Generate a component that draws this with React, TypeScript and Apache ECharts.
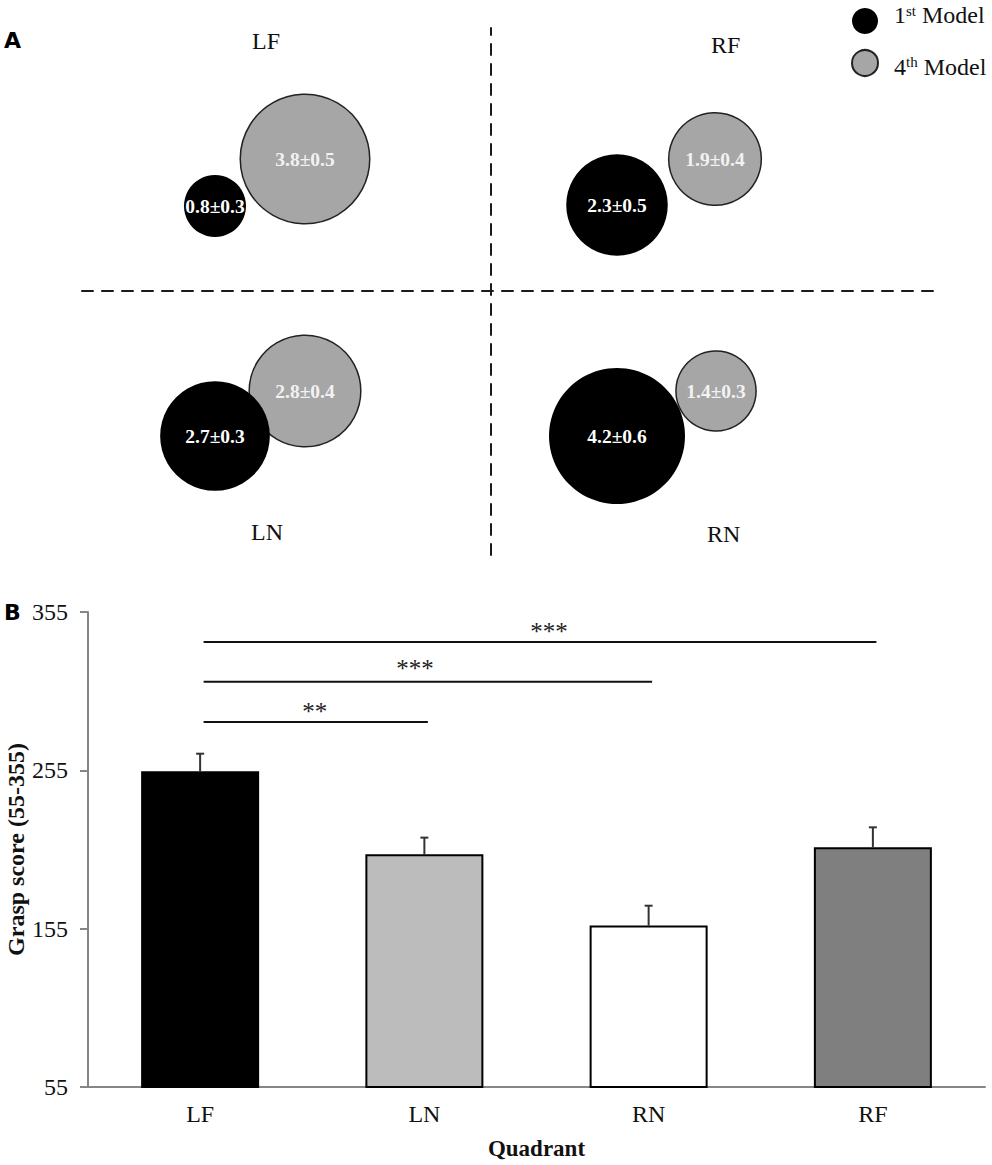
import React, { useEffect, useRef } from "react";
import * as echarts from "echarts";

const SERIF = "Liberation Serif";

// panel A: bubble positions per quadrant, order LF, RF, LN, RN
const quadrantNames = ["LF", "RF", "LN", "RN"];
const firstX = [-2.76, 1.26, -2.76, 1.26];
const firstY = [0.85, 0.86, -1.45, -1.45];
const firstMean = ["0.8", "2.3", "2.7", "4.2"];
const firstSd = ["0.3", "0.5", "0.3", "0.6"];
const fourthX = [-1.86, 2.24, -1.86, 2.25];
const fourthY = [1.32, 1.32, -1.0, -1.0];
const fourthMean = ["3.8", "1.9", "2.8", "1.4"];
const fourthSd = ["0.5", "0.4", "0.4", "0.3"];

// panel B
const categories = ["LF", "LN", "RN", "RF"];
const barValues = [254.5, 202, 157, 206.5];
const errorTops = [265.5, 212.5, 169.5, 219];
const barColors = ["#000000", "#bcbcbc", "#ffffff", "#7f7f7f"];
const yTicks = [55, 155, 255, 355];
const bracketEnds = [1, 2, 3];
const bracketLevels = [285.5, 311, 336];
const bracketMarks = ["**", "***", "***"];

const bubbleSize = (mean: string) => Math.sqrt(397 + 4309 * Number(mean));

const bubbleData = (xs: number[], ys: number[], means: string[], sds: string[]) =>
  xs.map((x, i) => ({
    value: [x, ys[i]],
    name: quadrantNames[i],
    symbolSize: bubbleSize(means[i]),
    label: { formatter: `${means[i]}±${sds[i]}` },
  }));

const legendRich = {
  gap: { width: 11 },
  txt: { fontFamily: SERIF, fontSize: 24, color: "#111" },
  sup: { fontFamily: SERIF, fontSize: 15, color: "#111", verticalAlign: "top", padding: [0, 0, 8, 0] },
};

const App: React.FC = () => {
  const chartRef = useRef<HTMLDivElement>(null);

  useEffect(() => {
    if (!chartRef.current) return;
    const chart = echarts.init(chartRef.current, undefined, { renderer: "svg" });

    const option: any = {
      animation: false,
      backgroundColor: "#fff",
      textStyle: { fontFamily: SERIF },
      legend: {
        left: 851,
        top: 3,
        orient: "vertical",
        itemWidth: 26,
        itemHeight: 26,
        itemGap: 15,
        selectedMode: false,
        padding: 0,
        data: [
          { name: "1st Model", textStyle: { padding: [0, 0, 12, 0] } },
          { name: "4th Model", textStyle: { padding: [7, 0, 0, 0] } },
        ],
        textStyle: { fontFamily: SERIF, fontSize: 24, rich: legendRich },
        formatter: (name: string) =>
          `{gap|}{txt|${name[0]}}{sup|${name.slice(1, 3)}}{txt|${name.slice(3)}}`,
      },
      grid: [
        { left: 82, top: 28, width: 855, height: 527, outerBoundsMode: "none" },
        { left: 88, top: 612, width: 897, height: 475, outerBoundsMode: "none" },
      ],
      xAxis: [
        {
          type: "value",
          gridIndex: 0,
          min: -4.09,
          max: 4.46,
          splitLine: { show: false },
          axisTick: { show: false },
          axisLabel: { show: false },
          axisLine: { show: true, onZero: true, lineStyle: { color: "#1a1a1a", width: 2, type: [11, 9] } },
        },
        {
          type: "category",
          gridIndex: 1,
          data: categories,
          name: "Quadrant",
          nameLocation: "middle",
          nameGap: 50,
          nameTextStyle: { fontFamily: SERIF, fontWeight: "bold", fontSize: 23, color: "#111" },
          axisTick: { show: false },
          axisLabel: { fontFamily: SERIF, fontSize: 24, color: "#111", margin: 15 },
          axisLine: { lineStyle: { color: "#868686", width: 2 } },
        },
      ],
      yAxis: [
        {
          type: "value",
          gridIndex: 0,
          min: -2.64,
          max: 2.63,
          splitLine: { show: false },
          axisTick: { show: false },
          axisLabel: { show: false },
          axisLine: { show: true, onZero: true, lineStyle: { color: "#1a1a1a", width: 2, type: [11, 9] } },
        },
        {
          type: "value",
          gridIndex: 1,
          min: 55,
          max: 355,
          name: "Grasp score (55-355)",
          nameLocation: "middle",
          nameGap: 60,
          nameMoveOverlap: false,
          nameTextStyle: { fontFamily: SERIF, fontWeight: "bold", fontSize: 24, color: "#111" },
          splitLine: { show: false },
          axisLine: { show: true, lineStyle: { color: "#868686", width: 2 } },
          axisTick: { show: true, length: 8, customValues: yTicks, lineStyle: { color: "#868686", width: 2 } },
          axisLabel: { fontFamily: SERIF, fontSize: 24, color: "#111", margin: 20, customValues: yTicks },
        },
      ],
      series: [
        {
          name: "1st Model",
          type: "scatter",
          xAxisIndex: 0,
          yAxisIndex: 0,
          z: 3,
          itemStyle: { color: "#000", opacity: 1 },
          label: { show: true, position: "inside", color: "#fff", fontFamily: SERIF, fontSize: 19.5, fontWeight: "bold" },
          data: bubbleData(firstX, firstY, firstMean, firstSd),
        },
        {
          name: "4th Model",
          type: "scatter",
          xAxisIndex: 0,
          yAxisIndex: 0,
          z: 2,
          itemStyle: { color: "#a6a6a6", borderColor: "#222", borderWidth: 1.5, opacity: 1 },
          label: { show: true, position: "inside", color: "#f2f2f2", fontFamily: SERIF, fontSize: 19.5, fontWeight: "bold" },
          data: bubbleData(fourthX, fourthY, fourthMean, fourthSd),
        },
        {
          name: "Grasp score",
          type: "bar",
          xAxisIndex: 1,
          yAxisIndex: 1,
          barWidth: 118,
          data: barValues.map((v, i) => ({
            value: v,
            itemStyle: { color: barColors[i], borderColor: "#000", borderWidth: 2 },
          })),
        },
        {
          name: "Error",
          type: "custom",
          xAxisIndex: 1,
          yAxisIndex: 1,
          encode: { x: 0, y: 2 },
          data: errorTops.map((top, i) => [i, barValues[i], top]),
          renderItem: (_: any, api: any) => {
            const from = api.coord([api.value(0), api.value(1)]);
            const to = api.coord([api.value(0), api.value(2)]);
            const style = { stroke: "#333", lineWidth: 2 };
            return {
              type: "group",
              children: [
                { type: "line", shape: { x1: from[0], y1: from[1], x2: to[0], y2: to[1] }, style },
                { type: "line", shape: { x1: to[0] - 4, y1: to[1], x2: to[0] + 4, y2: to[1] }, style },
              ],
            };
          },
        },
        {
          name: "Significance",
          type: "custom",
          xAxisIndex: 1,
          yAxisIndex: 1,
          encode: { x: 1, y: 2 },
          data: bracketEnds.map((end, i) => [0, end, bracketLevels[i], i]),
          renderItem: (_: any, api: any) => {
            const idx = api.value(3);
            const a = api.coord([api.value(0), api.value(2)]);
            const b = api.coord([api.value(1), api.value(2)]);
            const starShift = [-1, -13, 9][idx];
            return {
              type: "group",
              children: [
                {
                  type: "line",
                  shape: { x1: a[0] + 3.5, y1: a[1], x2: b[0] + 3.5, y2: b[1] },
                  style: { stroke: "#111", lineWidth: 2 },
                },
                {
                  type: "text",
                  x: (a[0] + b[0]) / 2 + 3.5 + starShift,
                  y: a[1] - [11, 13, 11][idx],
                  style: {
                    text: bracketMarks[idx],
                    fontFamily: SERIF,
                    fontSize: 25,
                    fill: "#222",
                    align: "center",
                    verticalAlign: "middle",
                  },
                },
              ],
            };
          },
        },
      ],
      graphic: [
        { type: "text", left: 4, top: 29, style: { text: "A", fontFamily: "DejaVu Sans", fontWeight: "bold", fontSize: 22, fill: "#000" } },
        { type: "text", left: 4, top: 601, style: { text: "B", fontFamily: "DejaVu Sans", fontWeight: "bold", fontSize: 22, fill: "#000" } },
        ...[
          ["LF", 252, 29],
          ["RF", 711, 33],
          ["LN", 251, 520],
          ["RN", 707, 522],
        ].map(([text, left, top]) => ({
          type: "text",
          left,
          top,
          style: { text, fontFamily: SERIF, fontSize: 24, fill: "#111" },
        })),
      ],
    };

    chart.setOption(option);
    return () => chart.dispose();
  }, []);

  return <div ref={chartRef} style={{ position: "absolute", left: 0, top: 0, width: 992, height: 1165 }} />;
};

export default App;
